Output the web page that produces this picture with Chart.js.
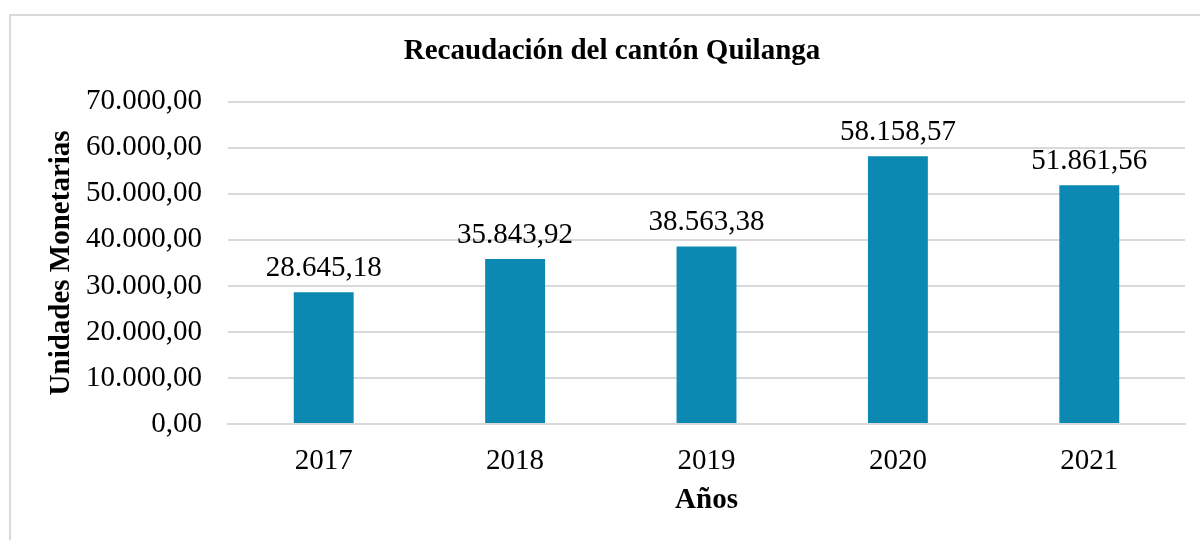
<!DOCTYPE html>
<html>
<head>
<meta charset="utf-8">
<script src="https://cdn.jsdelivr.net/npm/chart.js@4.4.1/dist/chart.umd.min.js"></script>
<style>
  html, body { margin: 0; padding: 0; background: #fff; overflow: hidden; }
  #wrap { position: relative; width: 1200px; height: 540px; }
  #marco { position: absolute; left: 9px; top: 14px; right: -10px; bottom: -10px;
           border-top: 2px solid #d9d9d9; border-left: 2px solid #d9d9d9; }
  canvas { position: absolute; left: 0; top: 0; }
</style>
</head>
<body>
<div id="wrap">
  <div id="marco"></div>
  <canvas id="myChart" width="1200" height="540"></canvas>
</div>
<script>
// Datos del gráfico
const anios = ['2017', '2018', '2019', '2020', '2021'];
const recaudacion = [28645.18, 35843.92, 38563.38, 58158.57, 51861.56];
const ticksY = [0, 10000, 20000, 30000, 40000, 50000, 60000, 70000];

// formato 12.345,67
function formato(v) {
  const partes = v.toFixed(2).split('.');
  partes[0] = partes[0].replace(/\B(?=(\d{3})+(?!\d))/g, '.');
  return partes[0] + ',' + partes[1];
}

const serif = "'Liberation Serif', 'Times New Roman', serif";

// Etiquetas encima de las barras
const etiquetas = {
  id: 'etiquetas',
  afterDatasetsDraw(chart) {
    const c = chart.ctx;
    const meta = chart.getDatasetMeta(0);
    c.save();
    c.font = '29px ' + serif;
    c.fillStyle = '#000';
    c.textAlign = 'center';
    c.textBaseline = 'alphabetic';
    meta.data.forEach((bar, i) => {
      c.fillText(formato(recaudacion[i]), bar.x, bar.y - 16);
    });
    c.restore();
  }
};

const ctx = document.getElementById('myChart').getContext('2d');

new Chart(ctx, {
  type: 'bar',
  data: {
    labels: anios,
    datasets: [{
      label: 'Recaudación',
      data: recaudacion,
      backgroundColor: '#0b89b2',
      categoryPercentage: 1,
      barPercentage: 0.313
    }]
  },
  options: {
    responsive: false,
    animation: false,
    layout: { padding: { left: 39, right: 15, top: 14, bottom: 0 } },
    plugins: {
      legend: { display: false },
      tooltip: { enabled: false },
      title: {
        display: true,
        text: 'Recaudación del cantón Quilanga',
        color: '#000',
        font: { family: serif, size: 29, weight: 'bold' },
        padding: { top: 20, bottom: 33 }
      }
    },
    scales: {
      x: {
        grid: { display: false, drawTicks: false },
        border: { color: '#d9d9d9', width: 2 },
        ticks: { color: '#000', font: { family: serif, size: 29 }, padding: 20 },
        title: {
          display: true,
          text: 'Años',
          color: '#000',
          font: { family: serif, size: 29, weight: 'bold' },
          padding: { top: 4, bottom: 22 }
        },
        afterFit(scale) { scale.height = 116; }
      },
      y: {
        min: 0,
        max: 70000,
        afterBuildTicks(scale) { scale.ticks = ticksY.map(v => ({ value: v })); },
        grid: { color: '#d9d9d9', lineWidth: 2, drawTicks: false },
        border: { display: false },
        ticks: {
          color: '#000',
          font: { family: serif, size: 29 },
          padding: 26,
          callback: v => formato(v)
        },
        title: {
          display: true,
          text: 'Unidades Monetarias',
          color: '#000',
          font: { family: serif, size: 29, weight: 'bold' },
          padding: { top: 5, bottom: 0 }
        },
        afterFit(scale) { scale.width = 189; }
      }
    }
  },
  plugins: [etiquetas]
});
</script>
</body>
</html>
